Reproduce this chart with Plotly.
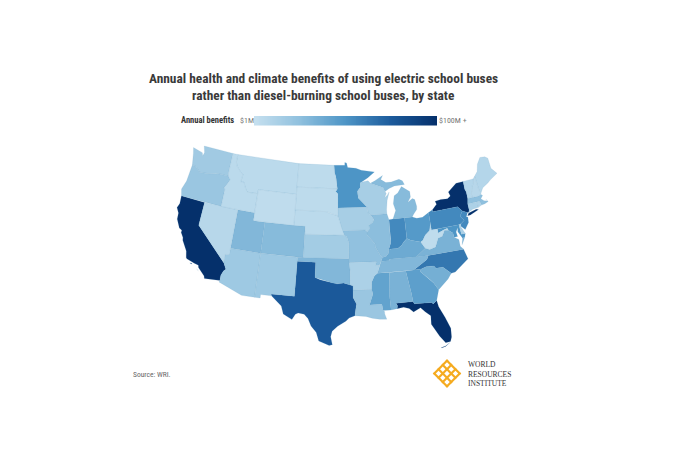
import numpy as np
import plotly.graph_objects as go
from plotly.colors import sample_colorscale

W, H = 696, 464
PAGE_MARGIN = 8  # browser body margin, figure is drawn inside it

# annual benefits in $M
STATE_CODES = ["CA", "NY", "FL", "TX", "NC", "PA", "NJ", "IN", "MD", "MN", "OH", "GA", "MS", "AL",
               "KY", "VA", "TN", "SC", "MI", "UT", "CO", "OK", "IL", "MO", "MA", "WA", "OR", "AZ",
               "NM", "LA", "KS", "AR", "WI", "IA", "CT", "NV", "ME", "DE", "RI", "WV", "MT", "ID",
               "ND", "NE", "NH", "SD", "WY", "VT"]
BENEFITS = [100, 100, 100, 76, 63, 55, 55, 55, 50, 50, 47, 44, 42, 33,
            38, 33, 30, 35, 28, 30, 28, 30, 26, 24, 25, 17, 20, 18,
            18, 20, 16, 12, 14, 14, 12, 7, 8, 12, 10, 3, 5, 5,
            4, 5, 7, 4, 3, 8]

# state outlines, lon/lat rings. plotly's own topojson is on the cdn and there is no network here
OUTLINES = {
    "WA": [[(-124.7, 48.4), (-123.2, 48.15), (-122.8, 48.1), (-122.55, 47.7), (-122.4, 48.2), (-122.8, 49), (-117.03, 49),
            (-117.04, 46.42), (-116.92, 45.99), (-118.98, 46), (-119.3, 45.93), (-120.5, 45.7), (-121.2, 45.65),
            (-122.3, 45.55), (-122.8, 45.9), (-123.2, 46.15), (-123.95, 46.2), (-124.05, 46.7), (-124.4, 47.7)]],
    "OR": [[(-123.95, 46.2), (-123.2, 46.15), (-122.8, 45.9), (-122.3, 45.55), (-121.2, 45.65), (-120.5, 45.7),
            (-119.3, 45.93), (-118.98, 46), (-116.92, 45.99), (-116.46, 45.6), (-116.85, 44.95), (-117.2, 44.45),
            (-117.03, 44.2), (-117.03, 42), (-124.21, 42), (-124.55, 42.84), (-124.1, 44)]],
    "CA": [[(-124.21, 42), (-120, 42), (-120, 39), (-114.63, 35), (-114.13, 34.27), (-114.45, 34), (-114.72, 33.4),
            (-114.72, 32.72), (-117.12, 32.53), (-117.25, 32.85), (-118.4, 33.75), (-118.5, 34.03), (-119.2, 34.15),
            (-120.5, 34.45), (-120.65, 34.6), (-120.9, 35.4), (-121.9, 36.6), (-122, 36.95), (-122.5, 37.5),
            (-122.5, 37.8), (-123, 38), (-123.75, 39), (-123.85, 39.8), (-124.35, 40.4), (-124.1, 41)],
           [(-119.9, 34.05), (-119.5, 34.05), (-119.6, 33.95)],
           [(-118.6, 33.47), (-118.3, 33.35), (-118.4, 33.3)]],
    "NV": [[(-120, 42), (-114.04, 42), (-114.04, 36.2), (-114.75, 36.1), (-114.63, 35), (-120, 39)]],
    "ID": [[(-117.03, 49), (-116.05, 49), (-116.05, 48), (-115.7, 47.45), (-114.7, 46.7), (-114.35, 46.65), (-114.5, 45.55),
            (-113.9, 45.65), (-113.45, 44.95), (-113, 44.45), (-111.05, 44.48), (-111.05, 42), (-117.03, 42),
            (-117.03, 44.2), (-117.2, 44.45), (-116.85, 44.95), (-116.46, 45.6), (-116.92, 45.99), (-117.04, 46.42)]],
    "MT": [[(-116.05, 49), (-104.05, 49), (-104.05, 45), (-111.05, 45), (-111.05, 44.48), (-113, 44.45), (-113.45, 44.95),
            (-113.9, 45.65), (-114.5, 45.55), (-114.35, 46.65), (-114.7, 46.7), (-115.7, 47.45), (-116.05, 48)]],
    "WY": [[(-111.05, 45), (-104.05, 45), (-104.05, 41), (-111.05, 41)]],
    "UT": [[(-114.04, 42), (-111.05, 42), (-111.05, 41), (-109.05, 41), (-109.05, 37), (-114.04, 37)]],
    "CO": [[(-109.05, 41), (-102.05, 41), (-102.05, 37), (-109.05, 37)]],
    "AZ": [[(-114.04, 37), (-109.05, 37), (-109.05, 31.33), (-111.07, 31.33), (-114.81, 32.5), (-114.72, 32.72),
            (-114.72, 33.4), (-114.45, 34), (-114.13, 34.27), (-114.63, 35), (-114.75, 36.1), (-114.04, 36.2)]],
    "NM": [[(-109.05, 37), (-103, 37), (-103.04, 32), (-106.62, 32), (-106.53, 31.78), (-108.2, 31.78), (-108.2, 31.33),
            (-109.05, 31.33)]],
    "ND": [[(-104.05, 49), (-97.23, 49), (-97.1, 48), (-96.85, 47.5), (-96.56, 45.94), (-104.05, 45.94)]],
    "SD": [[(-104.05, 45.94), (-96.56, 45.94), (-96.85, 45.6), (-96.45, 45.3), (-96.45, 42.49), (-97.9, 42.8), (-98.5, 43),
            (-104.05, 43)]],
    "NE": [[(-104.05, 43), (-98.5, 43), (-97.9, 42.8), (-96.45, 42.49), (-96.1, 41.7), (-95.9, 41.2), (-95.31, 40),
            (-102.05, 40), (-102.05, 41), (-104.05, 41)]],
    "KS": [[(-102.05, 40), (-95.31, 40), (-94.9, 39.8), (-94.62, 39.1), (-94.62, 37), (-102.05, 37)]],
    "OK": [[(-103, 37), (-94.62, 37), (-94.43, 35.4), (-94.48, 33.64), (-95.5, 33.9), (-96.5, 33.8), (-97.2, 33.9),
            (-98.1, 34.1), (-99.2, 34.3), (-100, 34.56), (-100, 36.5), (-103, 36.5)]],
    "TX": [[(-106.62, 32), (-103.04, 32), (-103, 36.5), (-100, 36.5), (-100, 34.56), (-99.2, 34.3), (-98.1, 34.1),
            (-97.2, 33.9), (-96.5, 33.8), (-95.5, 33.9), (-94.48, 33.64), (-94.04, 33.55), (-94.04, 32), (-93.55, 31.2),
            (-93.7, 30.5), (-93.84, 29.7), (-94.7, 29.4), (-95.2, 29), (-96.4, 28.35), (-97.2, 27.7), (-97.4, 27),
            (-97.15, 25.96), (-97.6, 25.85), (-99.1, 26.4), (-99.5, 27.5), (-100.3, 28.3), (-100.8, 29.25),
            (-101.4, 29.77), (-102.3, 29.88), (-102.7, 29.7), (-103.15, 28.98), (-104.5, 29.6), (-104.9, 30.6),
            (-106.53, 31.78)]],
    "MN": [[(-97.23, 49), (-95.15, 49), (-95.15, 49.38), (-94.8, 49.3), (-94.6, 48.72), (-93, 48.6), (-92, 48.3),
            (-90.8, 48.2), (-89.5, 48), (-90.8, 47.3), (-92.1, 46.75), (-92.3, 46.66), (-92.3, 46.1), (-92.85, 45.6),
            (-92.75, 44.75), (-91.22, 43.5), (-96.45, 43.5), (-96.45, 45.3), (-96.85, 45.6), (-96.56, 45.94),
            (-96.85, 47.5), (-97.1, 48)]],
    "IA": [[(-96.45, 43.5), (-91.22, 43.5), (-91.1, 42.7), (-90.65, 42.5), (-90.15, 41.9), (-90.35, 41.55), (-91.05, 41.2),
            (-91, 40.7), (-91.42, 40.38), (-91.73, 40.61), (-95.77, 40.58), (-95.9, 41.2), (-96.1, 41.7), (-96.45, 42.49)]],
    "MO": [[(-95.77, 40.58), (-91.73, 40.61), (-91.42, 40.38), (-91.5, 40), (-90.75, 39.3), (-90.2, 38.8), (-90.2, 38.4),
            (-89.5, 37.3), (-89.13, 36.98), (-89.4, 36.5), (-89.7, 36), (-90.37, 36), (-90.15, 36.5), (-94.62, 36.5),
            (-94.62, 39.1), (-94.9, 39.8), (-95.31, 40)]],
    "AR": [[(-94.62, 36.5), (-90.15, 36.5), (-90.37, 36), (-89.7, 36), (-90.1, 35), (-90.6, 34.7), (-91.1, 33.9),
            (-91.17, 33), (-94.04, 33), (-94.04, 33.55), (-94.48, 33.64), (-94.43, 35.4)]],
    "LA": [[(-94.04, 33), (-91.17, 33), (-91, 32.4), (-91.6, 31), (-89.73, 31), (-89.6, 30.2), (-89.4, 30.05),
            (-89.4, 29.75), (-89.15, 29.05), (-90.2, 29.1), (-91.3, 29.3), (-92.2, 29.55), (-93.84, 29.7), (-93.7, 30.5),
            (-93.55, 31.2), (-94.04, 32)]],
    "WI": [[(-92.1, 46.75), (-90.8, 46.9), (-90.4, 46.55), (-89.1, 46.13), (-88.1, 45.9), (-87.8, 45.35), (-87.6, 45.1),
            (-88, 44.55), (-87.4, 44.9), (-87.05, 45.25), (-87.55, 44.2), (-87.8, 43), (-87.8, 42.49), (-90.65, 42.5),
            (-91.1, 42.7), (-91.22, 43.5), (-92.75, 44.75), (-92.85, 45.6), (-92.3, 46.1), (-92.3, 46.66)]],
    "IL": [[(-90.65, 42.5), (-87.8, 42.49), (-87.53, 41.72), (-87.53, 39.35), (-87.6, 38.7), (-88.05, 37.85), (-88.1, 37.45),
            (-88.5, 37.1), (-89.13, 36.98), (-89.5, 37.3), (-90.2, 38.4), (-90.2, 38.8), (-90.75, 39.3), (-91.5, 40),
            (-91.42, 40.38), (-91, 40.7), (-91.05, 41.2), (-90.35, 41.55), (-90.15, 41.9)]],
    "IN": [[(-87.53, 41.72), (-87.2, 41.76), (-86.82, 41.76), (-84.8, 41.76), (-84.82, 39.1), (-85.4, 38.7), (-85.8, 38.3),
            (-86.5, 37.95), (-87.6, 37.95), (-88.05, 37.85), (-87.6, 38.7), (-87.53, 39.35)]],
    "MI": [[(-86.82, 41.76), (-84.8, 41.76), (-83.45, 41.73), (-83.15, 42.05), (-82.5, 42.6), (-82.42, 43), (-82.6, 43.9),
            (-83, 44.07), (-83.9, 43.65), (-83.3, 44.3), (-83.3, 45), (-84.7, 45.78), (-85.5, 45), (-86.2, 44.7),
            (-86.5, 43.7), (-86.2, 42.8)],
           [(-90.4, 46.55), (-89.1, 46.13), (-88.1, 45.9), (-87.8, 45.35), (-87, 45.7), (-86, 45.95), (-84.7, 45.95),
            (-84.1, 46), (-84.4, 46.5), (-85, 46.75), (-86.5, 46.5), (-87.5, 46.5), (-88.4, 46.95), (-88, 47.45),
            (-89.5, 46.85)]],
    "OH": [[(-84.8, 41.76), (-83.45, 41.73), (-82.7, 41.5), (-81.7, 41.5), (-80.52, 41.98), (-80.52, 40.64), (-80.7, 40),
            (-80.85, 39.7), (-81.7, 39.2), (-82.2, 38.6), (-82.6, 38.42), (-83.3, 38.6), (-84.2, 38.8), (-84.82, 39.1)]],
    "KY": [[(-84.82, 39.1), (-84.2, 38.8), (-83.3, 38.6), (-82.6, 38.42), (-82, 37.55), (-83.68, 36.6), (-88.07, 36.68),
            (-88.05, 36.5), (-89.4, 36.5), (-89.13, 36.98), (-88.5, 37.1), (-88.1, 37.45), (-88.05, 37.85), (-87.6, 37.95),
            (-86.5, 37.95), (-85.8, 38.3), (-85.4, 38.7)]],
    "TN": [[(-89.4, 36.5), (-88.05, 36.5), (-88.07, 36.68), (-83.68, 36.6), (-81.68, 36.59), (-82, 36.1), (-84.32, 35),
            (-90.1, 35), (-89.7, 36)]],
    "MS": [[(-90.1, 35), (-88.2, 35), (-88.47, 31.9), (-88.4, 30.2), (-89.6, 30.2), (-89.73, 31), (-91.6, 31), (-91, 32.4),
            (-91.17, 33), (-91.1, 33.9), (-90.6, 34.7)]],
    "AL": [[(-88.2, 35), (-85.6, 35), (-85.1, 32), (-85, 31), (-87.6, 31), (-87.4, 30.65), (-87.5, 30.3), (-88, 30.25),
            (-88.4, 30.2), (-88.47, 31.9)]],
    "GA": [[(-85.6, 35), (-83.1, 35), (-83.35, 34.7), (-82, 33.5), (-81.5, 33), (-80.9, 32.05), (-81.45, 30.72),
            (-82.05, 30.36), (-82.2, 30.57), (-84.86, 30.7), (-85, 31), (-85.1, 32)]],
    "FL": [[(-87.6, 31), (-85, 31), (-84.86, 30.7), (-82.2, 30.57), (-82.05, 30.36), (-81.45, 30.72), (-81.3, 29.9),
            (-80.6, 28.4), (-80.05, 26.9), (-80.15, 25.75), (-80.4, 25.2), (-81.1, 25.15), (-81.8, 26.1), (-82.2, 26.9),
            (-82.75, 27.8), (-82.65, 28.9), (-83.4, 29.5), (-84, 30.1), (-85.1, 29.65), (-85.7, 30.15), (-86.5, 30.4),
            (-87.5, 30.3), (-87.4, 30.65)],
           [(-81.8, 24.55), (-81.2, 24.65), (-80.5, 25.1), (-81.2, 24.72), (-81.8, 24.6)]],
    "SC": [[(-83.35, 34.7), (-83.1, 35), (-82.3, 35.2), (-81.05, 35.15), (-80.8, 34.82), (-79.67, 34.8), (-78.55, 33.86),
            (-79.2, 33.2), (-80.9, 32.05), (-81.5, 33), (-82, 33.5)]],
    "NC": [[(-84.32, 35), (-82, 36.1), (-81.68, 36.59), (-75.87, 36.55), (-75.5, 35.25), (-76.5, 34.7), (-77.9, 33.9),
            (-78.55, 33.86), (-79.67, 34.8), (-80.8, 34.82), (-81.05, 35.15), (-82.3, 35.2), (-83.1, 35)]],
    "VA": [[(-83.68, 36.6), (-81.68, 36.59), (-75.87, 36.55), (-76.3, 37), (-76.3, 37.9), (-77, 38.3), (-77.05, 38.85),
            (-77.7, 39.32), (-78.35, 39.4), (-78.9, 38.7), (-79.65, 38.55), (-80.3, 37.5), (-81.3, 37.3), (-82, 37.55)],
           [(-75.95, 37.15), (-75.25, 38.03), (-75.65, 37.95)]],
    "WV": [[(-82.6, 38.42), (-82, 37.55), (-81.3, 37.3), (-80.3, 37.5), (-79.65, 38.55), (-78.9, 38.7), (-78.35, 39.4),
            (-77.7, 39.32), (-77.83, 39.6), (-78.35, 39.5), (-79.48, 39.2), (-79.48, 39.72), (-80.52, 39.72), (-80.52, 40.64),
            (-80.7, 40), (-80.85, 39.7), (-81.7, 39.2), (-82.2, 38.6)]],
    "MD": [[(-79.48, 39.72), (-75.79, 39.72), (-75.7, 38.46), (-75.05, 38.45), (-75.25, 38.03), (-75.65, 37.95),
            (-76.2, 38.9), (-76.1, 39.4), (-76.5, 38.9), (-76.4, 38.3), (-77, 38.3), (-77.05, 38.85), (-77.7, 39.32),
            (-77.83, 39.6), (-78.35, 39.5), (-79.48, 39.2)]],
    "DE": [[(-75.79, 39.72), (-75.4, 39.8), (-75.55, 39.45), (-75.05, 38.45), (-75.7, 38.46)]],
    "PA": [[(-80.52, 41.98), (-79.76, 42.27), (-79.76, 42), (-75.35, 42), (-74.7, 41.36), (-75.1, 40.95), (-75.2, 40.65),
            (-74.72, 40.15), (-75.4, 39.8), (-75.79, 39.72), (-80.52, 39.72)]],
    "NJ": [[(-74.7, 41.36), (-73.9, 41), (-74.25, 40.5), (-74, 40.45), (-74.1, 39.75), (-74.9, 38.95), (-75.5, 39.5),
            (-75.4, 39.8), (-74.72, 40.15), (-75.2, 40.65), (-75.1, 40.95)]],
    "NY": [[(-79.76, 42.27), (-79.76, 42), (-75.35, 42), (-74.7, 41.36), (-73.9, 41), (-73.65, 41), (-73.5, 41.3),
            (-73.5, 42.05), (-73.27, 42.75), (-73.25, 43.6), (-73.4, 44), (-73.35, 45.01), (-74.7, 45), (-75.8, 44.4),
            (-76.4, 44.1), (-76.2, 43.55), (-76.8, 43.3), (-78, 43.37), (-79.05, 43.27), (-78.9, 42.85)],
           [(-74, 40.6), (-73.7, 40.9), (-72.3, 41.15), (-71.9, 41.05), (-73.5, 40.6)]],
    "CT": [[(-73.5, 42.05), (-71.8, 42.02), (-71.85, 41.32), (-72.9, 41.25), (-73.65, 41), (-73.5, 41.3)]],
    "RI": [[(-71.8, 42.02), (-71.38, 42.02), (-71.2, 41.5), (-71.85, 41.32)]],
    "MA": [[(-73.5, 42.05), (-73.27, 42.75), (-71.3, 42.7), (-70.85, 42.87), (-70.6, 42.65), (-71.05, 42.3), (-70.6, 41.95),
            (-70, 41.8), (-70.2, 42.05), (-69.95, 41.7), (-70.6, 41.55), (-71.2, 41.5), (-71.38, 42.02), (-71.8, 42.02)]],
    "VT": [[(-73.35, 45.01), (-71.5, 45.01), (-71.6, 44.5), (-72.05, 44.1), (-72.45, 43.2), (-72.46, 42.73), (-73.27, 42.75),
            (-73.25, 43.6), (-73.4, 44)]],
    "NH": [[(-71.5, 45.01), (-71.08, 45.3), (-70.98, 43.4), (-70.7, 43.07), (-70.85, 42.87), (-71.3, 42.7), (-72.46, 42.73),
            (-72.45, 43.2), (-72.05, 44.1), (-71.6, 44.5)]],
    "ME": [[(-71.08, 45.3), (-70.4, 45.8), (-70, 46.7), (-69.2, 47.45), (-68.3, 47.35), (-67.8, 47.07), (-67.8, 45.7),
            (-67.45, 45.3), (-67, 44.85), (-68.5, 44.3), (-69.1, 44), (-70.2, 43.6), (-70.7, 43.07), (-70.98, 43.4)]],
}

COLORSCALE = [[0, "#c6e0ef"], [0.25, "#8fc0de"], [0.5, "#4d95c6"], [0.75, "#1c5b9c"], [1, "#05306b"]]
LOGO_COLOR = "#f5ab1f"
CONDENSED = "Roboto Condensed"

FIG_W, FIG_H = W - 2 * PAGE_MARGIN, H - 2 * PAGE_MARGIN


def albers(lon, lat, lon0=-96, lat0=37.5, p1=29.5, p2=45.5):
    lon, lat, lon0, lat0, p1, p2 = map(np.radians, (lon, lat, lon0, lat0, p1, p2))
    n = (np.sin(p1) + np.sin(p2)) / 2
    c = np.cos(p1) ** 2 + 2 * n * np.sin(p1)
    rho = np.sqrt(c - 2 * n * np.sin(lat)) / n
    rho0 = np.sqrt(c - 2 * n * np.sin(lat0)) / n
    return rho * np.sin(n * (lon - lon0)), rho0 - rho * np.cos(n * (lon - lon0))


# page pixels to paper coordinates
def px_x(p):
    return (p - PAGE_MARGIN) / FIG_W


def px_y(p):
    return 1 - (p - PAGE_MARGIN) / FIG_H


fig = go.Figure()

# project outlines, then work out axis ranges so the map sits where it does in the original
all_xy = []
for code in STATE_CODES:
    for ring in OUTLINES[code]:
        all_xy.append(albers(*np.array(ring).T))
xmin = min(a[0].min() for a in all_xy)
xmax = max(a[0].max() for a in all_xy)
ymin = min(a[1].min() for a in all_xy)
ymax = max(a[1].max() for a in all_xy)
left, right, top, bottom = 177, 497, 146, 348
sx = (right - left) / (xmax - xmin)
sy = (bottom - top) / (ymax - ymin)

for code, val in zip(STATE_CODES, BENEFITS):
    xs, ys = [], []
    for ring in OUTLINES[code]:
        x, y = albers(*np.array(ring + ring[:1]).T)
        xs += list(x) + [None]
        ys += list(y) + [None]
    fig.add_trace(go.Scatter(x=xs, y=ys, mode="lines", fill="toself", name=code,
                             fillcolor=sample_colorscale(COLORSCALE, val / 100)[0],
                             line=dict(color="rgba(110,160,195,0.3)", width=0.5),
                             hoverinfo="name"))

# legend gradient
fig.add_trace(go.Heatmap(z=[np.linspace(0, 1, 200)], colorscale=COLORSCALE, showscale=False,
                         xaxis="x2", yaxis="y2", hoverinfo="skip"))

fig.update_layout(
    width=FIG_W, height=FIG_H, margin=dict(l=0, r=0, t=0, b=0), showlegend=False,
    paper_bgcolor="white", plot_bgcolor="white",
    xaxis=dict(range=[xmin - (left - PAGE_MARGIN) / sx, xmin + (PAGE_MARGIN + FIG_W - left) / sx], visible=False),
    yaxis=dict(range=[ymax - (PAGE_MARGIN + FIG_H - top) / sy, ymax + (top - PAGE_MARGIN) / sy], visible=False),
    xaxis2=dict(domain=[px_x(254), px_x(437)], anchor="y2", visible=False),
    yaxis2=dict(domain=[px_y(125.5), px_y(116)], anchor="x2", visible=False),
)


def label(text, x, y, size, color, anchor="left", family=CONDENSED, weight=None):
    fig.add_annotation(text=text, x=px_x(x), y=px_y(y), xref="paper", yref="paper", showarrow=False,
                       xanchor=anchor, yanchor="middle", align="center", borderpad=0, xshift=-1 if anchor == "left" else 0,
                       font=dict(family=family, size=size, color=color, weight=weight))


label("Annual health and climate benefits of using electric school buses", 323, 79, 13.4, "#3a3a3a", "center", weight=700)
label("rather than diesel-burning school buses, by state", 323, 96, 13.4, "#3a3a3a", "center", weight=700)
label("Annual benefits", 181, 120, 8.5, "#333333", weight=700)
label("$1M", 240, 120, 8, "#777777")
label("$100M +", 439, 120, 8, "#777777")
label("Source: WRI.", 133, 374, 7.5, "#666666")
label("WORLD", 468, 364.5, 7.5, "#333333", family="Liberation Serif")
label("RESOURCES", 468, 374, 7.5, "#333333", family="Liberation Serif")
label("INSTITUTE", 468, 383.5, 7.5, "#333333", family="Liberation Serif")

# logo lattice, a square weave turned 45 degrees
cx, cy = 447, 373.5
half = 10 / np.sqrt(2)
for off in (-9, -3, 3, 9):
    d = off / np.sqrt(2)
    for x0, y0, x1, y1 in [(cx + d - half, cy - d - half, cx + d + half, cy - d + half),
                           (cx + d - half, cy + d + half, cx + d + half, cy + d - half)]:
        fig.add_shape(type="line", xref="paper", yref="paper", x0=px_x(x0), y0=px_y(y0), x1=px_x(x1), y1=px_y(y1),
                      line=dict(color=LOGO_COLOR, width=2.2))

fig.write_html("out.html")
